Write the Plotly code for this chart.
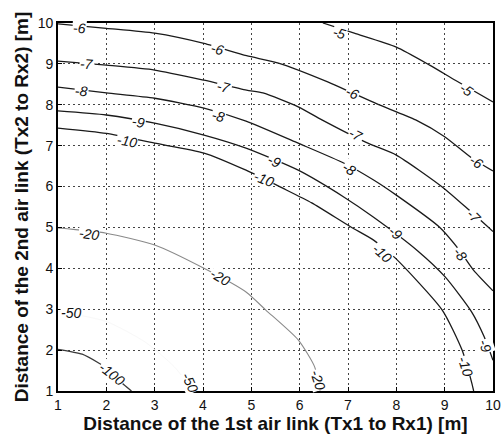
import plotly.graph_objects as go

# ---- contour lines (data coordinates) ----
c5_x = [6.48, 7.13, 8.0, 8.69, 9.22, 10.0]
c5_y = [10.0, 9.75, 9.41, 8.97, 8.60, 8.07]

c6_x = [1.0, 2.0, 3.0, 4.02, 4.9, 5.56, 6.58, 7.09, 7.6, 8.4, 9.0, 9.56, 10.0]
c6_y = [9.98, 9.87, 9.75, 9.5, 9.2, 9.02, 8.56, 8.29, 8.02, 7.63, 7.22, 6.70, 6.38]

c7_x = [1.0, 2.0, 3.0, 4.02, 4.9, 5.24, 5.97, 6.46, 7.41, 8.0, 8.95, 9.5, 10.0]
c7_y = [9.07, 8.97, 8.85, 8.6, 8.36, 8.29, 7.95, 7.63, 7.06, 6.77, 5.99, 5.43, 4.9]

c8_x = [1.0, 2.0, 3.0, 4.02, 4.89, 5.97, 6.92, 7.53, 8.0, 8.89, 9.3, 9.6, 10.0]
c8_y = [8.43, 8.29, 8.16, 7.92, 7.6, 7.06, 6.57, 6.16, 5.79, 5.01, 4.45, 3.95, 3.45]

c9_x = [1.0, 2.0, 3.0, 4.02, 4.89, 5.97, 6.92, 7.53, 8.45, 9.01, 9.56, 9.82, 10.0]
c9_y = [7.85, 7.75, 7.55, 7.26, 6.94, 6.40, 5.74, 5.25, 4.42, 3.79, 2.93, 2.32, 1.75]

c10_x = [1.0, 2.0, 3.0, 4.02, 4.89, 5.65, 6.25, 7.06, 7.53, 7.98, 8.95, 9.36, 9.56, 9.6]
c10_y = [7.43, 7.3, 7.06, 6.82, 6.40, 5.96, 5.60, 5.01, 4.69, 4.25, 2.98, 2.0, 1.2, 1.0]

c20_x = [1.0, 2.0, 3.0, 4.02, 4.89, 5.3, 5.97, 6.31, 6.42]
c20_y = [4.99, 4.86, 4.57, 4.0, 3.42, 2.98, 2.25, 1.59, 1.0]

c50_x = [1.0, 2.0, 2.8, 3.4, 3.8]
c50_y = [2.95, 2.7, 2.2, 1.6, 1.0]

c100_x = [1.0, 1.5, 1.85, 2.15, 2.32, 2.52]
c100_y = [2.02, 1.9, 1.68, 1.45, 1.2, 1.0]

# contour label positions (level, x, y, angle)
lab_text = ["-5", "-5",
            "-6", "-6", "-6", "-6",
            "-7", "-7", "-7", "-7",
            "-8", "-8", "-8", "-8",
            "-9", "-9", "-9", "-9",
            "-10", "-10", "-10", "-10",
            "-20", "-20", "-20",
            "-50", "-50",
            "-100"]
lab_x = [6.82, 9.46,
         1.45, 4.29, 7.09, 9.66,
         1.59, 4.43, 7.17, 9.6,
         1.49, 4.32, 7.03, 9.32,
         2.66, 5.47, 7.98, 9.84,
         2.42, 5.26, 7.7, 9.42,
         1.65, 4.35, 6.38,
         1.26, 3.74,
         2.12]
lab_y = [9.75, 8.36,
         9.87, 9.36, 8.29, 6.60,
         8.99, 8.43, 7.25, 5.27,
         8.33, 7.72, 6.43, 4.35,
         7.57, 6.62, 4.86, 2.1,
         7.11, 6.19, 4.37, 1.6,
         4.83, 3.78, 1.27,
         2.9, 1.2,
         1.42]
lab_ang = [17, 35,
           3, 15, 25, 33,
           4, 14, 27, 45,
           5, 14, 32, 52,
           10, 25, 40, 72,
           10, 22, 42, 72,
           8, 30, 72,
           0, 65,
           38]

ticks = [1, 2, 3, 4, 5, 6, 7, 8, 9, 10]

lines = [
    (c5_x, c5_y, "#1a1a1a", 1.3),
    (c6_x, c6_y, "#1a1a1a", 1.3),
    (c7_x, c7_y, "#1a1a1a", 1.3),
    (c8_x, c8_y, "#1a1a1a", 1.3),
    (c9_x, c9_y, "#1a1a1a", 1.3),
    (c10_x, c10_y, "#1a1a1a", 1.3),
    (c20_x, c20_y, "#8a8a8a", 1.1),
    (c50_x, c50_y, "#f8f8f8", 1.0),
    (c100_x, c100_y, "#3a3a3a", 1.3),
]

fig = go.Figure()
for xs, ys, col, w in lines:
    fig.add_trace(go.Scatter(x=xs, y=ys, mode="lines",
                             line=dict(color=col, width=w, shape="spline", smoothing=0.6),
                             hoverinfo="skip", showlegend=False))

for t, x, y, a in zip(lab_text, lab_x, lab_y, lab_ang):
    fig.add_annotation(x=x, y=y, text=t, showarrow=False, textangle=a,
                       font=dict(family="Liberation Sans, Arial", size=14, color="#111", style="italic"),
                       bgcolor="white", borderpad=0)

font_fam = "Liberation Sans, Arial"
axis_common = dict(
    range=[1, 10], tickvals=ticks, ticktext=[str(t) for t in ticks],
    ticks="inside", ticklen=4, tickcolor="black", tickwidth=1,
    showgrid=True, gridcolor="#444444", gridwidth=1, griddash="1.5px,3.5px",
    showline=True, linecolor="black", linewidth=1.6, mirror=True,
    zeroline=False, ticklabeloverflow="allow",
    tickfont=dict(family=font_fam, size=14, color="#111"),
)

fig.update_xaxes(**axis_common,
                 title=dict(text="Distance of the 1st air link (Tx1 to Rx1) [m]",
                            font=dict(family=font_fam, size=19, color="#111", weight="bold"),
                            standoff=4))
fig.update_yaxes(**axis_common,
                 title=dict(text="Distance of the 2nd air link (Tx2 to Rx2) [m]",
                            font=dict(family=font_fam, size=19, color="#111", weight="bold"),
                            standoff=4))

fig.update_layout(
    width=504, height=438,
    margin=dict(l=58, r=3, t=23, b=47),
    paper_bgcolor="white", plot_bgcolor="white",
)

fig.write_html("out.html")
